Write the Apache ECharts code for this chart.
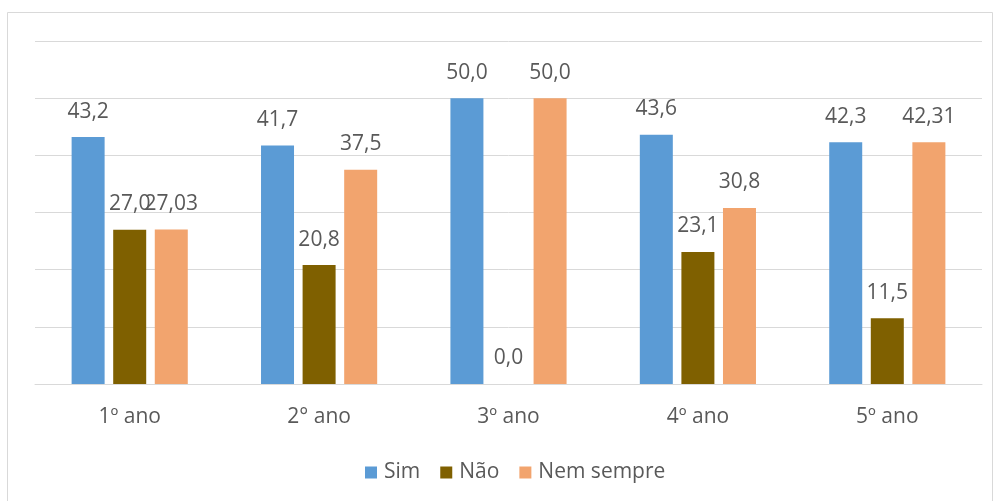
<!DOCTYPE html>
<html>
<head>
<meta charset="utf-8">
<script src="https://cdn.jsdelivr.net/npm/echarts@6/dist/echarts.min.js"></script>
<style>
  html, body { margin: 0; padding: 0; background: #ffffff; }
  #chart { width: 994px; height: 501px; }
</style>
</head>
<body>
<div id="chart"></div>
<script>
// School years on the category axis
const categories = ['1º ano', '2° ano', '3º ano', '4º ano', '5º ano'];

// Percentages per answer, kept as written so labels keep their decimals
const simValues = ['43.2', '41.7', '50.0', '43.6', '42.3'];
const naoValues = ['27.0', '20.8', '0.0', '23.1', '11.5'];
const nemSempreValues = ['27.03', '37.5', '50.0', '30.8', '42.31'];

const seriesNames = ['Sim', 'Não', 'Nem sempre'];
const seriesColors = ['#5B9BD5', '#7F6000', '#F2A46E'];

const textColor = '#595959';
const fontFamily = '"Open Sans", "Noto Sans", sans-serif';
const fontSize = 21;

function makeSeries(name, values, color) {
  return {
    name: name,
    type: 'bar',
    barWidth: 33,
    barGap: '26%',
    itemStyle: { color: color },
    label: {
      show: true,
      position: 'top',
      distance: 15,
      color: textColor,
      fontSize: fontSize,
      lineHeight: 21,
      fontFamily: fontFamily,
      formatter: function (p) { return values[p.dataIndex].replace('.', ','); }
    },
    data: values.map(Number)
  };
}

const chart = echarts.init(document.getElementById('chart'), null, { renderer: 'canvas' });
chart.setOption({
  backgroundColor: '#ffffff',
  animation: false,
  textStyle: { fontFamily: fontFamily },
  graphic: [{
    type: 'rect',
    shape: { x: 7.5, y: 12.5, width: 985, height: 600 },
    style: { fill: 'none', stroke: '#d9d9d9', lineWidth: 1 },
    silent: true,
    z: -1
  }],
  grid: { left: 35, right: 12, top: 41, bottom: 117 },
  legend: {
    data: seriesNames,
    left: 360,
    top: 457,
    itemWidth: 12,
    itemHeight: 12,
    itemGap: 20,
    icon: 'rect',
    textStyle: { color: textColor, fontSize: fontSize, fontFamily: fontFamily, padding: [0, 0, 0, 2] }
  },
  xAxis: {
    type: 'category',
    data: categories,
    axisLine: { lineStyle: { color: '#d9d9d9', width: 1 } },
    axisTick: { show: false },
    axisLabel: { color: textColor, fontSize: fontSize, margin: 23, fontFamily: fontFamily }
  },
  yAxis: {
    type: 'value',
    min: 0,
    max: 60,
    interval: 10,
    axisLabel: { show: false },
    axisLine: { show: false },
    axisTick: { show: false },
    splitLine: { lineStyle: { color: '#d9d9d9', width: 1 } }
  },
  series: [
    makeSeries(seriesNames[0], simValues, seriesColors[0]),
    makeSeries(seriesNames[1], naoValues, seriesColors[1]),
    makeSeries(seriesNames[2], nemSempreValues, seriesColors[2])
  ]
});
</script>
</body>
</html>
